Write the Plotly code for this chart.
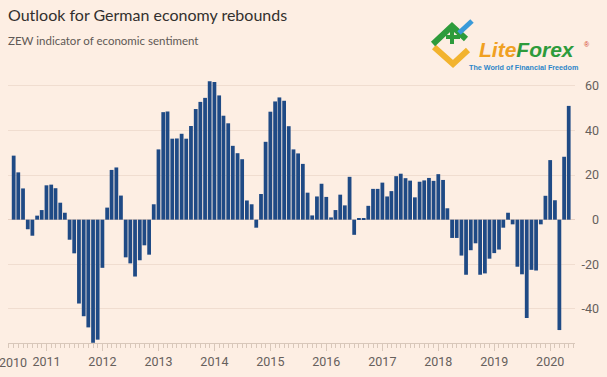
import pandas as pd
import plotly.graph_objects as go

# ZEW indicator of economic sentiment, monthly (Jun 2010 - May 2020)
zew_2010 = [28.7, 21.2, 14.0, -4.3, -7.2, 1.8, 4.3]  # Jun-Dec
zew_2011 = [15.4, 15.7, 14.1, 7.6, 3.1, -9.0, -15.1, -37.6, -43.3, -48.3, -55.2, -53.8]
zew_2012 = [-21.6, 5.4, 22.3, 23.4, 10.8, -16.9, -19.6, -25.5, -18.2, -11.5, -15.7, 6.9]
zew_2013 = [31.5, 48.2, 48.5, 36.3, 36.4, 38.5, 36.3, 42.0, 49.6, 52.8, 54.6, 62.0]
zew_2014 = [61.7, 55.7, 46.6, 43.2, 33.1, 29.8, 27.1, 8.6, 6.9, -3.6, 11.5, 34.9]
zew_2015 = [48.4, 53.0, 54.8, 53.3, 41.9, 31.5, 29.7, 25.0, 12.1, 1.9, 10.4, 16.1]
zew_2016 = [10.2, 1.0, 4.3, 11.2, 6.4, 19.2, -6.8, 0.5, 0.5, 6.2, 13.8, 13.8]
zew_2017 = [16.6, 10.4, 12.8, 19.5, 20.6, 18.6, 17.5, 10.0, 17.0, 17.6, 18.7, 17.4]
zew_2018 = [20.4, 17.8, 5.1, -8.2, -8.2, -16.1, -24.7, -13.7, -10.6, -24.7, -24.1, -17.5]
zew_2019 = [-15.0, -13.4, -3.6, 3.1, -2.1, -21.1, -24.5, -44.1, -22.5, -22.8, -2.1, 10.7]
zew_2020 = [26.7, 8.7, -49.5, 28.2, 51.0]  # Jan-May

values = (zew_2010 + zew_2011 + zew_2012 + zew_2013 + zew_2014 + zew_2015
          + zew_2016 + zew_2017 + zew_2018 + zew_2019 + zew_2020)
months = pd.date_range("2010-06-01", periods=len(values), freq="MS")

y_ticks = [-40, -20, 0, 20, 40, 60]

W, H = 607, 377
BG = "#fdeee3"
GRID = "#f0ddd0"
AXIS = "#d8c7ba"
TXT = "#66605c"
BAR = "#1f4a85"
TICKFONT = "Roboto, Lato, sans-serif"
TITLEFONT = "Lato, Roboto, sans-serif"

x_range = [pd.Timestamp("2010-04-25"), pd.Timestamp("2020-06-11")]
x_dom = [8 / W, 575 / W]
y_dom = [(H - 343) / H, (H - 72) / H]


def px(x, y):
    return x / W, 1 - y / H


fig = go.Figure(go.Bar(x=months, y=values, marker=dict(color=BAR, line=dict(width=0))))

fig.update_layout(
    width=W, height=H,
    margin=dict(l=0, r=0, t=0, b=0),
    paper_bgcolor=BG, plot_bgcolor=BG,
    bargap=0.12,
    showlegend=False,
    font=dict(family=TICKFONT, color=TXT),
    xaxis=dict(
        type="date", domain=x_dom, range=x_range,
        showgrid=False, zeroline=False,
        showline=True, linecolor=AXIS, linewidth=1,
        ticks="outside", ticklen=7, tickcolor=AXIS, tickwidth=1,
        tick0="2011-01-01", dtick="M12", tickformat="%Y",
        tickfont=dict(size=12.5, color=TXT),
        minor=dict(ticks="outside", ticklen=4, tickcolor=AXIS, dtick="M1", tick0="2011-01-01", showgrid=False),
    ),
    yaxis=dict(
        domain=y_dom, range=[-55.3, 66.2],
        anchor="free", side="left", position=599 / W,
        tickvals=y_ticks, ticktext=[str(v) for v in y_ticks],
        showgrid=True, gridcolor=GRID, gridwidth=1,
        zeroline=True, zerolinecolor="#e6d0c2", zerolinewidth=1,
        showline=False, ticks="",
        tickfont=dict(size=12.5, color=TXT),
    ),
)

# first year label at the left edge
fig.add_annotation(x=px(29, 0)[0], y=px(0, 362)[1], xref="paper", yref="paper",
                   text="2010", showarrow=False, xanchor="right", yanchor="middle",
                   font=dict(size=12.5, color=TXT, family=TICKFONT))

# Title and subtitle
fig.add_annotation(x=px(6, 0)[0], y=px(0, 14)[1], xref="paper", yref="paper",
                   text="Outlook for German economy rebounds", showarrow=False,
                   xanchor="left", yanchor="middle",
                   font=dict(size=16, color="#33302e", family=TITLEFONT))
fig.add_annotation(x=px(6, 0)[0], y=px(0, 41)[1], xref="paper", yref="paper",
                   text="ZEW indicator of economic sentiment", showarrow=False,
                   xanchor="left", yanchor="middle",
                   font=dict(size=11.5, color="#5f5955", family=TITLEFONT))

# LiteForex watermark
def seg(points, color, width):
    d = "M " + " L ".join(f"{px(x, y)[0]},{px(x, y)[1]}" for x, y in points)
    fig.add_shape(type="path", path=d, xref="paper", yref="paper",
                  line=dict(color=color, width=width))

seg([(434, 47), (453, 64), (468, 50)], "#f2b32e", 6)
seg([(433, 44), (452, 26), (466, 39)], "#2e9b3b", 6)
seg([(446, 37), (460, 37)], "#2e9b3b", 4)
seg([(452, 30), (452, 44)], "#2e9b3b", 4)
seg([(459, 33), (472, 21)], "#3a9ad9", 5)

fig.add_annotation(x=px(527, 0)[0], y=px(0, 50)[1], xref="paper", yref="paper",
                   text="<b><i><span style='color:#f0a022'>Lite</span><span style='color:#2e9b3b'>Forex</span></i></b>",
                   showarrow=False, xanchor="center", yanchor="middle",
                   font=dict(family="Liberation Sans, Arial, sans-serif", size=21))
fig.add_annotation(x=px(587, 0)[0], y=px(0, 44)[1], xref="paper", yref="paper",
                   text="®", showarrow=False, xanchor="center", yanchor="middle",
                   font=dict(family="Liberation Sans, Arial, sans-serif", size=7, color="#d23b2a"))
fig.add_annotation(x=px(523, 0)[0], y=px(0, 67)[1], xref="paper", yref="paper",
                   text="<b>The World of Financial Freedom</b>",
                   showarrow=False, xanchor="center", yanchor="middle",
                   font=dict(family="Liberation Sans, Arial, sans-serif", size=7.2, color="#2d86c8"))

fig.write_html(
    "out.html",
    config={"displayModeBar": False},
    post_script="document.body.style.margin='0';document.body.style.overflow='hidden';"
                "document.body.style.background='" + BG + "';",
)
